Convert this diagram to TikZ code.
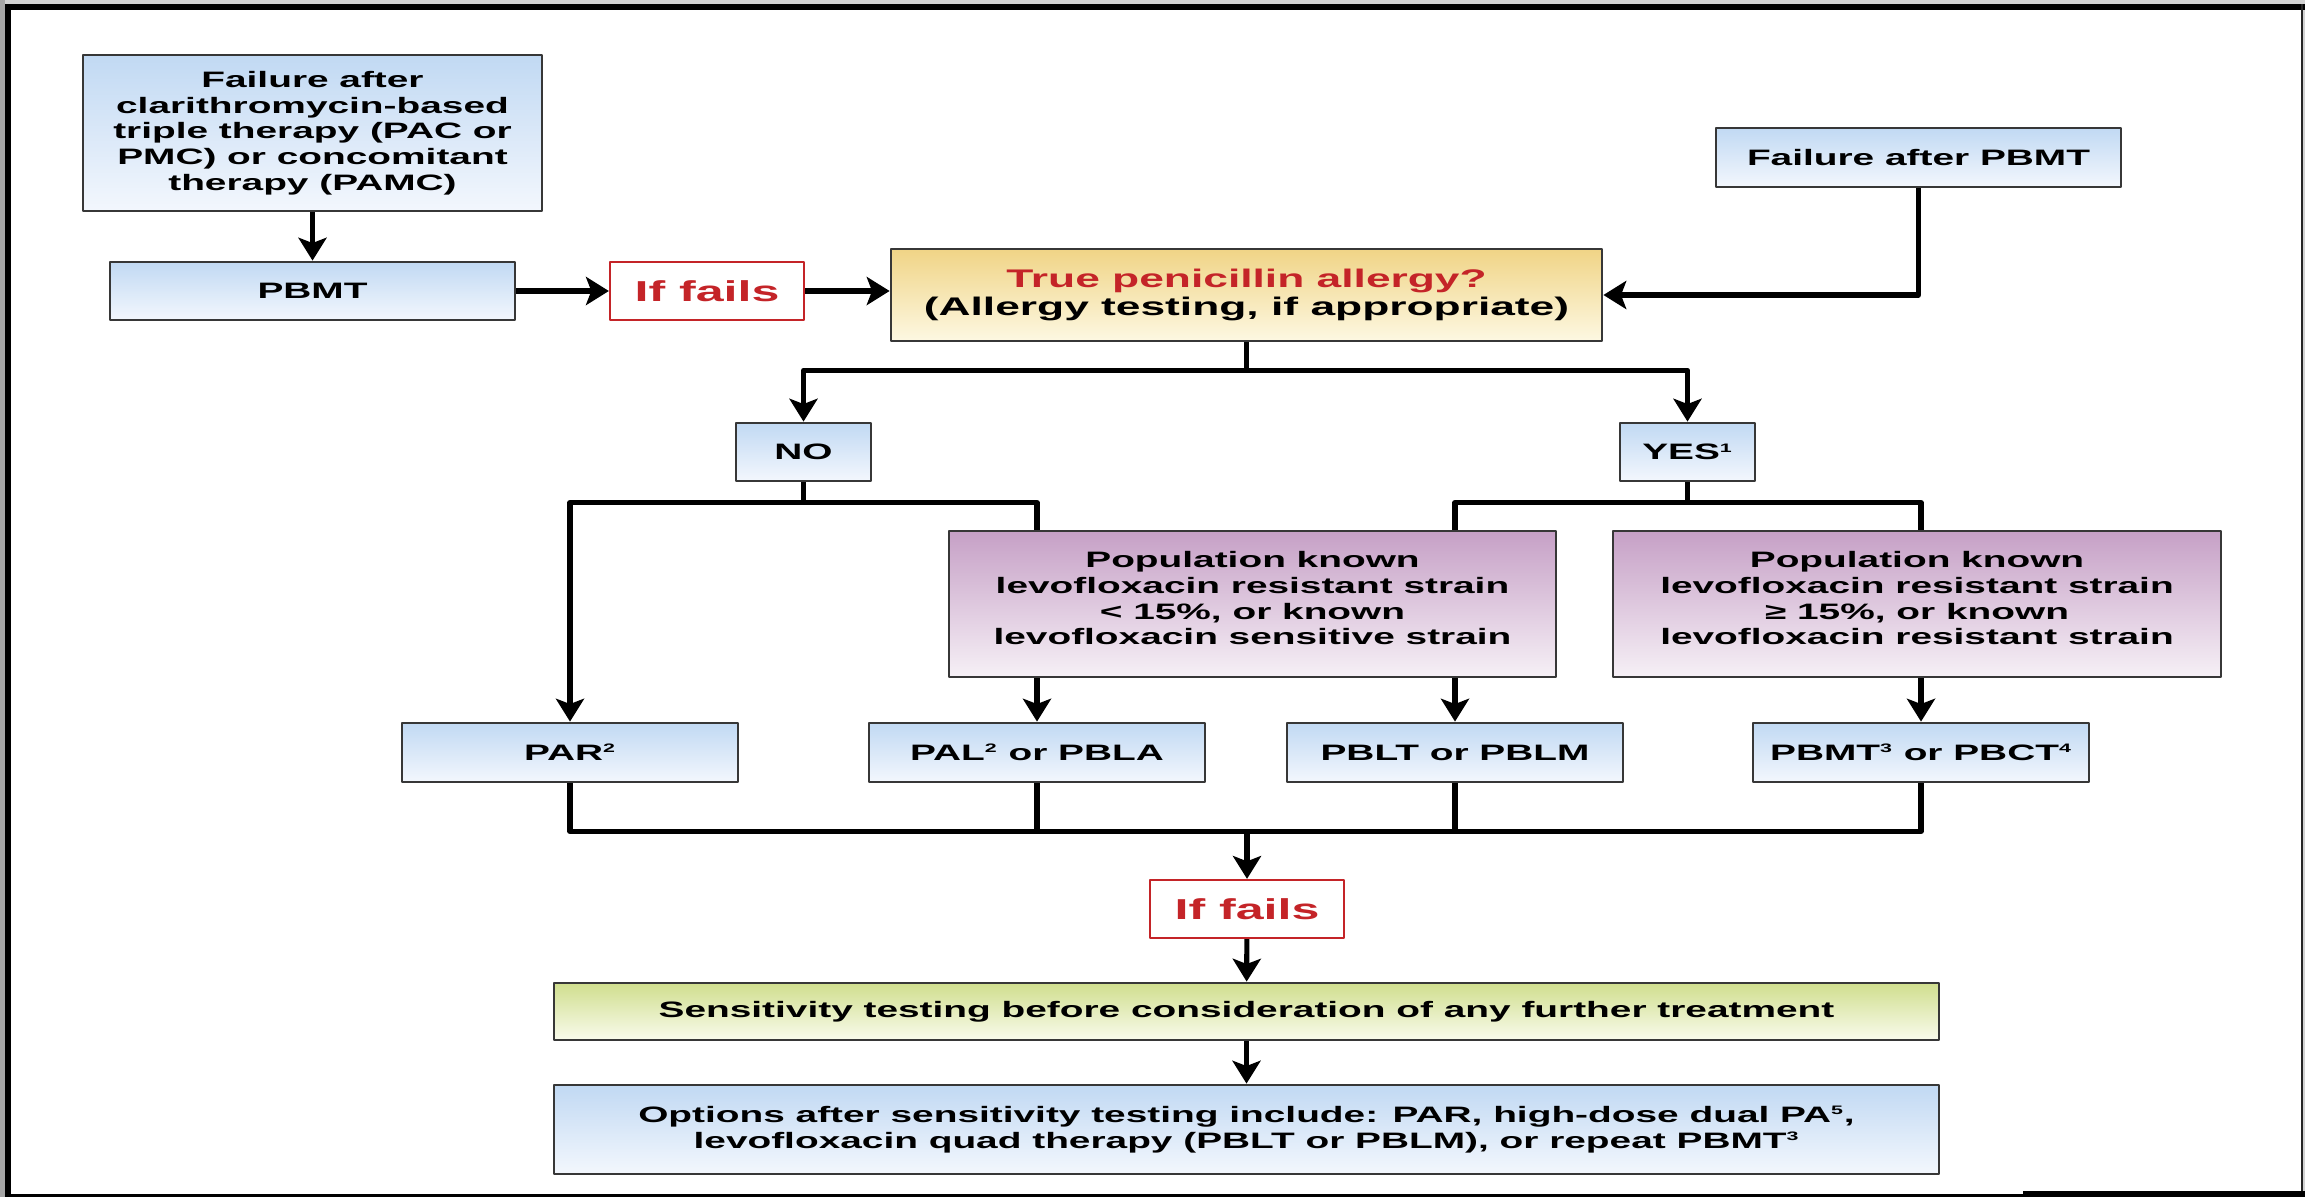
\documentclass[tikz,border=0pt]{standalone}
\usepackage{fontspec}
\setmainfont{Liberation Sans}[FakeStretch=1.74]
\usetikzlibrary{arrows.meta,calc}
\definecolor{boxline}{RGB}{55,55,55}
\definecolor{bluetop}{RGB}{193,217,243}
\definecolor{bluebot}{RGB}{243,247,253}
\definecolor{yellowtop}{RGB}{240,212,134}
\definecolor{yellowbot}{RGB}{253,248,226}
\definecolor{purpletop}{RGB}{198,160,198}
\definecolor{purplebot}{RGB}{246,240,246}
\definecolor{greentop}{RGB}{208,222,142}
\definecolor{greenbot}{RGB}{249,251,236}
\definecolor{failred}{RGB}{196,36,40}
\newcommand{\sups}[1]{\textsuperscript{\fontsize{7}{7}\selectfont #1}}
\begin{document}
\begin{tikzpicture}[x=0.02cm, y=-0.02cm, line join=round,
  font=\bfseries\fontsize{12.7}{14.6}\selectfont,
  wh/.style 2 args={minimum width=#1*0.02cm, minimum height=#2*0.02cm},
  box/.style={draw=boxline, line width=1.6pt, align=center, inner sep=0pt},
  bluebox/.style={box, top color=bluetop, bottom color=bluebot},
  yellowbox/.style={box, top color=yellowtop, bottom color=yellowbot, font=\bfseries\fontsize{14.5}{16}\selectfont},
  purplebox/.style={box, top color=purpletop, bottom color=purplebot},
  greenbox/.style={box, top color=greentop, bottom color=greenbot},
  failbox/.style={draw=failred, line width=1.3pt, fill=white, text=failred, inner sep=0pt,
    font=\bfseries\fontsize{16.4}{19}\selectfont, wh={194}{58}},
  line/.style={line width=2.9pt},
  arr/.style={line, -{Stealth[length=13pt, width=16pt, inset=3pt]}}]
\useasboundingbox (0,0) rectangle (2305,1197);
% cadre
\fill[gray!35] (0,0) rectangle (2305,1197);
\fill[gray!70] (0,0) rectangle (5,1197);
\fill[white] (5,4) rectangle (2303,1197);
\fill[black] (5,4) rectangle (2305,10);
\fill[black] (5,4) rectangle (11,1197);
\fill[black!85] (2301,4) rectangle (2303,1197);
\fill[black] (5,1194) rectangle (2305,1197);
\fill[black] (2023,1191) rectangle (2305,1197);

% noeuds
\node[bluebox, wh={459}{156}] (fail1) at (312.5,133)
  {Failure after\\clarithromycin-based\\triple therapy (PAC or\\PMC) or concomitant\\therapy (PAMC)};
\node[bluebox, wh={405}{58}] (pbmt) at (312.5,291) {PBMT};
\node[failbox] (fails1) at (707,291) {If fails};
\node[yellowbox, wh={711}{92}] (allergy) at (1246.5,295)
  {\textcolor{failred}{True penicillin allergy?}\\(Allergy testing, if appropriate)};
\node[bluebox, wh={405}{59}] (failpbmt) at (1918.5,157.5) {Failure after PBMT};
\node[bluebox, wh={135}{58}] (no) at (803.5,452) {NO};
\node[bluebox, wh={135}{58}] (yes) at (1687.5,452) {YES\sups{1}};
\node[purplebox, wh={607}{146}] (popa) at (1252.5,604)
  {Population known\\levofloxacin resistant strain\\< 15\%, or known\\levofloxacin sensitive strain\\[-8pt]\mbox{}};
\node[purplebox, wh={608}{146}] (popb) at (1917,604)
  {Population known\\levofloxacin resistant strain\\≥ 15\%, or known\\levofloxacin resistant strain\\[-8pt]\mbox{}};
\node[bluebox, wh={336}{59}] (par) at (570,752.5) {PAR\sups{2}};
\node[bluebox, wh={336}{59}] (pal) at (1037,752.5) {PAL\sups{2} or PBLA};
\node[bluebox, wh={336}{59}] (pblt) at (1455,752.5) {PBLT or PBLM};
\node[bluebox, wh={336}{59}] (pbmtb) at (1921,752.5) {PBMT\sups{3} or PBCT\sups{4}};
\node[failbox] (fails2) at (1247,909) {If fails};
\node[greenbox, wh={1385}{57}] (sens) at (1246.5,1011.5)
  {Sensitivity testing before consideration of any further treatment};
\node[bluebox, wh={1385}{89}] (options) at (1246.5,1129.5)
  {Options after sensitivity testing include: PAR, high-dose dual PA\sups{5},\\levofloxacin quad therapy (PBLT or PBLM), or repeat PBMT\sups{3}};

% fleches du haut
\draw[arr] (fail1) -- (pbmt);
\draw[arr] (pbmt) -- (fails1);
\draw[arr] (fails1.east) -- (fails1.east -| allergy.west);
\draw[arr] (failpbmt.south) |- (allergy.east);
% allergie ?
\draw[line] (allergy.south) -- ++(0,28) coordinate (afork);
\draw[arr] (afork) -| (no.north);
\draw[arr] (afork) -| (yes.north);
% NO
\draw[line] (no.south) -- ++(0,20) coordinate (nofork);
\draw[arr] (nofork) -| (par.north);
\draw[line] (nofork) -| (popa.north -| pal.north);
% YES
\draw[line] (yes.south) -- ++(0,20) coordinate (yesfork);
\draw[line] (yesfork) -| (popa.north -| pblt.north);
\draw[line] (yesfork) -| (popb.north -| pbmtb.north);
\draw[arr] (popa.south -| pal.north) -- (pal.north);
\draw[arr] (popa.south -| pblt.north) -- (pblt.north);
\draw[arr] (popb.south -| pbmtb.north) -- (pbmtb.north);
% regroupement
\draw[line] (par.south) -- ++(0,48) coordinate (join) -- (join -| pbmtb.south) -- (pbmtb.south);
\draw[line] (pal.south) -- (pal.south |- join);
\draw[line] (pblt.south) -- (pblt.south |- join);
\draw[arr] (join -| fails2.north) -- (fails2.north);
\draw[arr] (fails2) -- (sens);
\draw[arr] (sens) -- (options);
\end{tikzpicture}
\end{document}
